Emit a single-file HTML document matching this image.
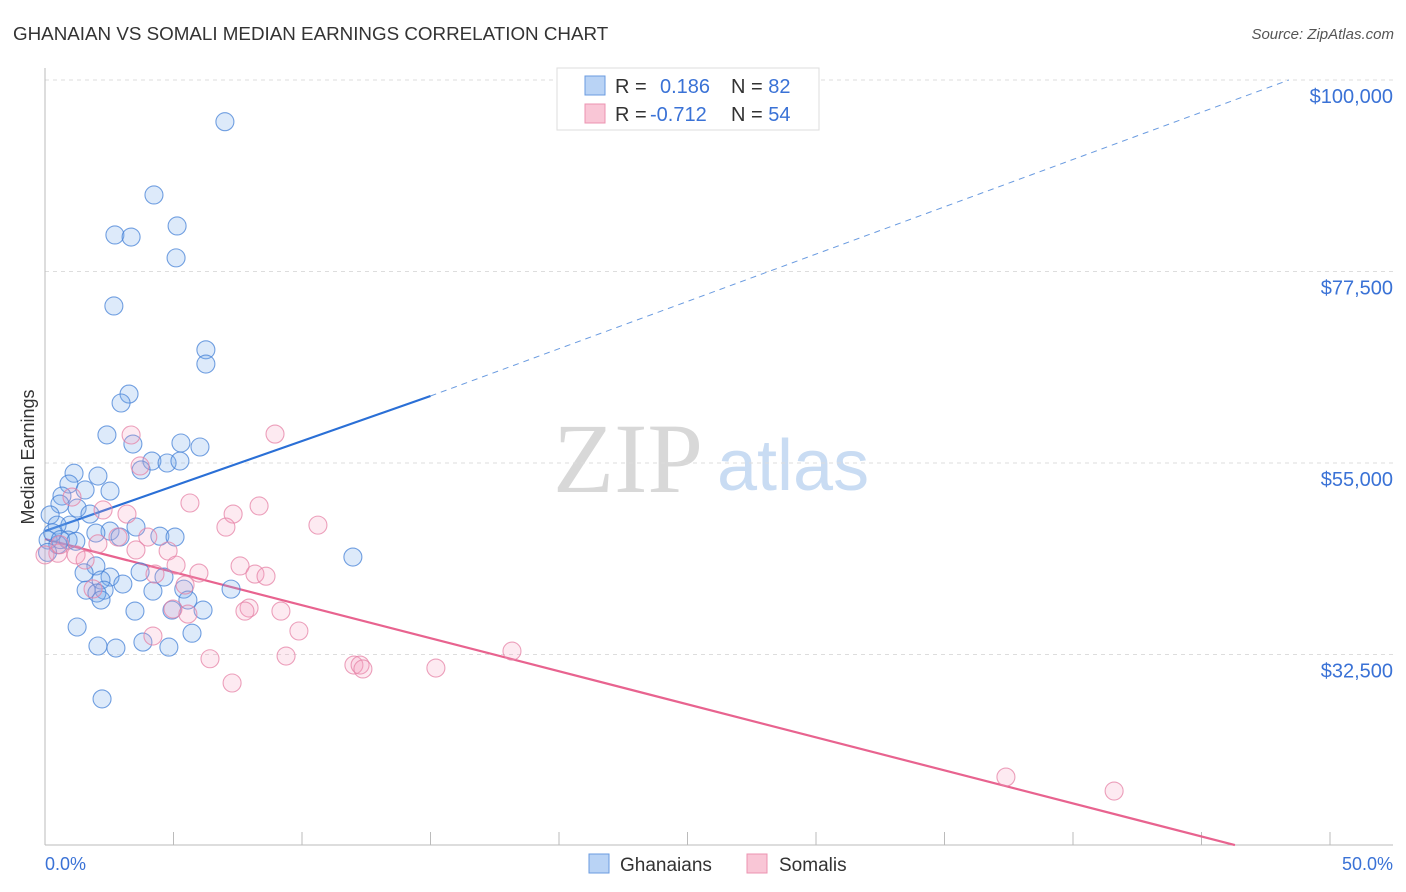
<!DOCTYPE html>
<html><head><meta charset="utf-8"><style>
body{margin:0;background:#fff;font-family:"Liberation Sans",sans-serif;}
svg{display:block}
</style></head><body>
<svg id="chart" width="1406" height="892">
<text x="13" y="40" font-size="18.8" fill="#333">GHANAIAN VS SOMALI MEDIAN EARNINGS CORRELATION CHART</text>
<text x="1394" y="39" font-size="15" fill="#555" text-anchor="end" font-style="italic">Source: ZipAtlas.com</text>
<g>
<text x="553" y="492" font-size="100" fill="#d8d8d8" font-family="Liberation Serif,serif">ZIP</text>
<text x="717" y="490" font-size="72" fill="#c9dcf3">atlas</text>
</g>
<g id="grid"></g>
<g id="axes"></g>
<g id="lines"></g>
<g id="pts"></g>
<text x="-457" y="34" transform="rotate(-90)" font-size="18" fill="#333" text-anchor="middle">Median Earnings</text>
<text x="45" y="870" font-size="18" fill="#3a72d6">0.0%</text>
<text x="1393" y="870" font-size="18" fill="#3a72d6" text-anchor="end">50.0%</text>
<g>
<rect x="557" y="68" width="262" height="62" fill="#fff" stroke="#ddd"/>
<rect x="585" y="76" width="20" height="19" fill="#b9d3f5" stroke="#6a9be0"/>
<rect x="585" y="104" width="20" height="19" fill="#f9c6d6" stroke="#ec93b0"/>
<text x="615" y="93" font-size="20" fill="#333">R = <tspan fill="#3a72d6" x="660">0.186</tspan><tspan x="731" fill="#333">N = </tspan><tspan fill="#3a72d6">82</tspan></text>
<text x="615" y="121" font-size="20" fill="#333">R = <tspan fill="#3a72d6" x="650">-0.712</tspan><tspan x="731" fill="#333">N = </tspan><tspan fill="#3a72d6">54</tspan></text>
</g>
<g>
<rect x="589" y="854" width="20" height="19" fill="#b9d3f5" stroke="#6a9be0"/>
<text x="620" y="871" font-size="19" fill="#333">Ghanaians</text>
<rect x="747" y="854" width="20" height="19" fill="#f9c6d6" stroke="#ec93b0"/>
<text x="779" y="871" font-size="19" fill="#333">Somalis</text>
</g>
</svg>
<script>
const yTicks=[32500,55000,77500,100000];
const yTickLabels=["$32,500","$55,000","$77,500","$100,000"];
const xTicks=[0,5,10,15,20,25,30,35,40,45,50];
const ghanaX=[7.0,4.24,2.72,3.35,5.14,5.10,2.68,6.26,6.26,3.27,2.96,2.41,3.42,5.29,6.03,4.16,4.75,5.25,3.74,1.13,2.06,0.93,1.56,2.53,0.66,0.58,1.25,1.75,0.2,3.54,2.53,0.97,0.47,1.98,4.47,5.06,2.92,0.12,0.9,0.5,11.98,1.98,1.52,3.7,2.53,4.63,3.03,2.18,1.6,2.3,4.2,5.4,7.24,2.02,2.18,5.56,3.5,4.94,6.15,1.25,5.72,2.06,2.76,3.81,4.82,2.22,0.1,0.3,0.6,1.2];
const ghanaY=[95100,86490,81790,81550,82850,79100,73450,68300,66630,63100,62050,58300,57230,57350,56880,55230,55000,55230,54180,53800,53470,52530,51830,51700,51120,50180,49700,49000,48900,47480,47000,47700,47700,46770,46400,46300,46300,45950,45950,45400,43950,42900,42100,42200,41600,41600,40780,41250,40060,40060,39950,40180,40180,39720,38900,38900,37600,37720,37720,35730,35000,33500,33260,33960,33370,27280,44500,46800,46000,45800];
const somaliX=[1.05,3.35,8.95,3.7,5.64,8.33,7.32,10.62,7.04,3.19,2.26,4.0,2.84,2.06,3.54,4.79,1.21,0.5,5.1,7.59,4.28,5.99,8.17,8.6,5.45,1.87,4.98,7.94,7.78,9.18,5.56,9.88,4.2,6.42,9.38,12.02,12.26,12.37,15.21,18.17,7.28,37.39,41.6,0,0.58,1.56];
const somaliY=[51000,58290,58400,54650,50300,49950,49000,47700,47470,49000,49480,46300,46300,45500,44780,44660,44200,44400,43000,42900,41950,42070,41950,41700,40660,40200,37840,37960,37600,37600,37250,35260,34670,32000,32320,31260,31260,30800,30910,32900,29150,18100,16460,44200,45400,43600];
const blueFit=[0,47000,15,62870,48.4,100000];
const pinkFit=[0,46060,46.3,10110];
const NS="http://www.w3.org/2000/svg";
const sx=v=>45+v*25.7;
const sy=v=>80+(100000-v)*191.5/22500;
function mk(t,a,p){const e=document.createElementNS(NS,t);for(const k in a)e.setAttribute(k,a[k]);p.appendChild(e);return e;}
const grid=document.getElementById('grid'),axes=document.getElementById('axes'),lines=document.getElementById('lines'),pts=document.getElementById('pts');
yTicks.forEach((v,i)=>{
 const l=mk('line',{x1:45,x2:1393,y1:sy(v),y2:sy(v),stroke:'#ddd','stroke-dasharray':'4,4'},grid);
 
 
 const t=mk('text',{x:1393,y:sy(v)+23,'font-size':20,fill:'#3a72d6','text-anchor':'end'},grid);
 t.textContent=yTickLabels[i];
 
 
});
const ya=mk('line',{x1:45,x2:45,y1:68,y2:845,stroke:'#bbb'},axes);


const xa=mk('line',{x1:45,x2:1393,y1:845,y2:845,stroke:'#bbb'},axes);


xTicks.forEach(v=>{
 const t=mk('line',{x1:sx(v),x2:sx(v),y1:832,y2:845,stroke:'#bbb'},axes);
 
 
});
function dots(X,Y,fill,stroke,name){
 X.forEach((x,i)=>{
  const c=mk('circle',{cx:sx(x),cy:sy(Y[i]),r:9,fill:fill,stroke:stroke,'stroke-width':1.1},pts);
  
  
 });
}
dots(ghanaX,ghanaY,'rgba(120,170,235,0.25)','rgba(70,130,215,0.75)','ghanaian-point');
dots(somaliX,somaliY,'rgba(245,160,190,0.22)','rgba(230,130,165,0.75)','somali-point');
const b1=mk('line',{x1:sx(blueFit[0]),y1:sy(blueFit[1]),x2:sx(blueFit[2]),y2:sy(blueFit[3]),stroke:'#2a6fd6','stroke-width':2.2},lines);


const b2=mk('line',{x1:sx(blueFit[2]),y1:sy(blueFit[3]),x2:sx(blueFit[4]),y2:sy(blueFit[5]),stroke:'#6a9be0','stroke-width':1,'stroke-dasharray':'6,5'},lines);


const p1=mk('line',{x1:sx(pinkFit[0]),y1:sy(pinkFit[1]),x2:sx(pinkFit[2]),y2:sy(pinkFit[3]),stroke:'#e8638f','stroke-width':2.2},lines);


</script>
</body></html>
